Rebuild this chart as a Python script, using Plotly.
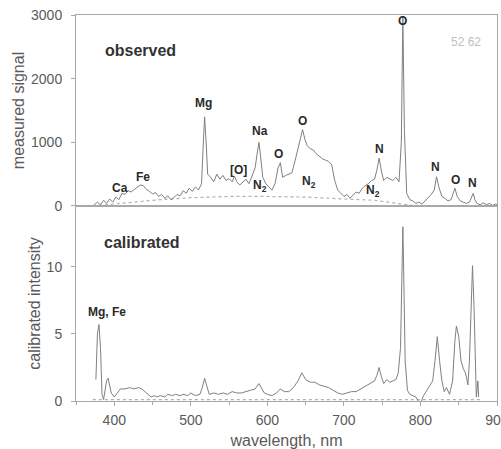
import plotly.graph_objects as go

# ---------------- data ----------------
obs_wl = [372, 378, 382, 386, 390, 394, 398, 402, 406, 410, 414, 418, 422, 428, 434, 438, 442, 446,
          450, 454, 458, 462, 466, 470, 474, 478, 482, 486, 490, 494, 498, 502, 506, 510, 514, 516,
          518, 520, 522, 526, 530, 534, 538, 542, 546, 550, 554, 557, 560, 564, 568, 572, 576, 580,
          584, 587, 589, 591, 594, 598, 602, 606, 610, 614, 617, 620, 624, 628, 632, 636, 640, 643,
          646, 649, 652, 656, 660, 664, 668, 672, 676, 680, 684, 688, 692, 696, 700, 704, 708, 712,
          716, 720, 724, 728, 732, 736, 740, 743, 746, 749, 752, 756, 760, 764, 768, 772, 775, 777,
          779, 782, 786, 790, 794, 798, 802, 806, 810, 814, 818, 821, 824, 828, 832, 836, 840, 843,
          845, 848, 852, 856, 860, 864, 867, 869, 871, 874, 878, 882, 886, 890, 894, 898, 900]
obs_sig = [0, 60, 20, 90, 40, 110, 60, 140, 100, 200, 180, 240, 220, 280, 330, 320, 260, 230,
           190, 210, 150, 180, 120, 160, 100, 130, 180, 160, 240, 200, 280, 230, 300, 250, 350, 900,
           1400, 1000, 500, 450, 380, 500, 420, 480, 400, 430, 380, 470, 380, 330, 370, 420, 350, 480,
           600, 850, 1000, 800, 450, 350, 300, 250, 350, 600, 680, 450, 480, 500, 520, 700, 900, 1100,
           1200, 1050, 950, 900, 880, 820, 780, 740, 720, 700, 650, 400, 250, 200, 150, 180, 120, 170,
           220, 200, 280, 320, 350, 400, 420, 560, 750, 550, 400, 450, 420, 400, 450, 380, 1000, 2970,
           1200, 200, 100, 80, 40, 60, 30, 80, 130, 180, 250, 460, 300, 150, 120, 80, 100, 200,
           280, 150, 80, 60, 40, 60, 150, 200, 100, 40, 20, 50, 20, 40, 10, 30, 20]

base_wl = [372, 400, 430, 460, 500, 550, 600, 650, 700, 740, 770, 790, 820, 900]
base_sig = [0, 30, 60, 100, 130, 150, 150, 140, 110, 90, 40, 10, 0, 0]

cal_wl = [376, 378, 380, 382, 384, 386, 388, 390, 392, 394, 396, 400, 404, 408, 414, 420, 426, 432,
          436, 440, 444, 448, 452, 456, 460, 466, 470, 476, 480, 486, 490, 496, 500, 506, 512, 515,
          518, 521, 524, 530, 536, 542, 548, 554, 560, 566, 572, 578, 584, 589, 592, 596, 600, 606,
          612, 617, 622, 628, 634, 640, 645, 650, 656, 662, 668, 674, 680, 686, 692, 698, 704, 710,
          716, 722, 728, 734, 740, 743, 746, 749, 752, 756, 760, 764, 768, 771, 774, 776, 777, 778,
          780, 783, 786, 790, 794, 798, 800, 804, 808, 812, 816, 819, 822, 825, 828, 831, 834, 838,
          842, 845, 847, 850, 853, 856, 858, 860, 862, 864, 866, 868, 870, 872, 873, 875, 876]
cal_int = [1.6, 5.0, 5.7, 4.0, 0.5, 0.1, 0.8, 1.5, 1.7, 1.2, 0.6, 0.3, 0.6, 0.9, 0.9, 1.0, 0.9, 1.0,
           0.9, 0.7, 0.5, 0.3, 0.4, 0.3, 0.4, 0.3, 0.5, 0.4, 0.5, 0.4, 0.5, 0.4, 0.6, 0.4, 0.5, 1.0,
           1.7, 1.0, 0.5, 0.6, 0.5, 0.6, 0.5, 0.7, 0.6, 0.6, 0.7, 0.8, 0.9, 1.3, 1.0, 0.6, 0.5, 0.4,
           0.6, 0.9, 0.7, 0.7, 1.0, 1.5, 2.1, 1.6, 1.4, 1.4, 1.2, 1.1, 1.0, 0.8, 0.6, 0.5, 0.6, 0.7,
           0.7, 0.9, 1.1, 1.3, 1.5, 1.9, 2.5, 1.8, 1.3, 1.6, 1.4, 1.5, 1.6, 2.1, 4.0, 10.0, 13.0, 10.0,
           3.0, 0.8, 0.5, 0.4, 0.3, -0.1, -0.2, 0.4, 0.8, 1.2, 1.5, 3.0, 4.8, 3.0, 1.5, 0.7, 1.0, 0.5,
           1.5, 4.5, 5.6, 4.8, 3.0, 2.4, 2.2, 1.8, 1.2, 3.0, 7.0, 10.1, 7.0, 2.0, 0.3, 1.5, 0.3]

cal_base_wl = [372, 880]
cal_base_int = [0.1, 0.1]

top_labels = ["Ca", "Fe", "Mg", "[O]", "N<sub>2</sub>", "Na", "O", "O", "N<sub>2</sub>", "N",
              "N<sub>2</sub>", "O", "N", "O", "N"]
top_label_x = [407, 437, 516, 562, 590, 590, 615, 646, 654, 746, 738, 776, 820, 846, 868]
top_label_y = [283, 455, 1618, 566, 314, 1178, 817, 1335, 377, 895, 236, 2906, 613, 408, 361]

x_ticks = [400, 500, 600, 700, 800, 900]
top_y_ticks = [0, 1000, 2000, 3000]
bot_y_ticks = [0, 5, 10]

# ---------------- figure ----------------
LINE = "#808080"
AX = "#a8a8a8"
TXT = "#5a5a5a"
FONT = "Liberation Sans, Arial, sans-serif"

fig = go.Figure()
fig.add_trace(go.Scatter(x=base_wl, y=base_sig, mode="lines", xaxis="x", yaxis="y",
                         line=dict(color="#b0b0b0", width=1.2, dash="dot"), hoverinfo="skip"))
fig.add_trace(go.Scatter(x=obs_wl, y=obs_sig, mode="lines", xaxis="x", yaxis="y",
                         line=dict(color=LINE, width=1)))
fig.add_trace(go.Scatter(x=cal_base_wl, y=cal_base_int, mode="lines", xaxis="x2", yaxis="y2",
                         line=dict(color="#b0b0b0", width=1.2, dash="dot"), hoverinfo="skip"))
fig.add_trace(go.Scatter(x=cal_wl, y=cal_int, mode="lines", xaxis="x2", yaxis="y2",
                         line=dict(color=LINE, width=1)))

split = 0.5052
common_x = dict(range=[350, 900], showgrid=False, zeroline=False, showline=True,
                linecolor=AX, linewidth=1, mirror=True, automargin=False)
fig.update_layout(
    width=501, height=449,
    margin=dict(l=76, r=4, t=15, b=48),
    paper_bgcolor="white", plot_bgcolor="white",
    showlegend=False, hovermode=False,
    font=dict(family=FONT, color=TXT, size=14),
    xaxis=dict(**common_x, anchor="y", domain=[0, 1], showticklabels=False, ticks=""),
    xaxis2=dict(**common_x, anchor="y2", domain=[0, 1], tickvals=x_ticks, ticks="outside",
                ticklen=4, tickcolor=AX, ticklabelstandoff=2, ticklabeloverflow="allow",
                minor=dict(dtick=50, ticks="outside", ticklen=3, tickcolor=AX),
                title=dict(text="wavelength, nm", font=dict(size=16, color=TXT), standoff=8)),
    yaxis=dict(domain=[split, 1], range=[0, 3000], tickvals=top_y_ticks, ticks="outside",
               ticklen=4, tickcolor=AX, showgrid=False, zeroline=False, showline=True,
               mirror=True, linecolor=AX, ticklabelstandoff=6, ticklabeloverflow="allow",
               anchor="x", automargin=False,
               title=dict(text="measured signal", font=dict(size=16, color=TXT), standoff=2)),
    yaxis2=dict(domain=[0, split], range=[0, 14.55], tickvals=bot_y_ticks, ticks="outside",
                ticklen=4, tickcolor=AX, showgrid=False, zeroline=False, showline=True,
                mirror=True, linecolor=AX, ticklabelstandoff=6, ticklabeloverflow="allow",
                anchor="x2", automargin=False,
                title=dict(text="calibrated intensity", font=dict(size=16, color=TXT), standoff=2)),
)

LBL = "#2a2a2a"
for t, x, y in zip(top_labels, top_label_x, top_label_y):
    fig.add_annotation(x=x, y=y, xref="x", yref="y", text=f"<b>{t}</b>", showarrow=False,
                       font=dict(size=12, color=LBL, family=FONT))

fig.add_annotation(x=385, y=2450, xref="x", yref="y", text="<b>observed</b>", showarrow=False,
                   xanchor="left", font=dict(size=16, color="#333333", family=FONT))
fig.add_annotation(x=860, y=2576, xref="x", yref="y", text="52 62", showarrow=False,
                   font=dict(size=12, color="#c0c0c0", family=FONT))
fig.add_annotation(x=384, y=11.8, xref="x2", yref="y2", text="<b>calibrated</b>", showarrow=False,
                   xanchor="left", font=dict(size=16, color="#333333", family=FONT))
fig.add_annotation(x=390.5, y=6.64, xref="x2", yref="y2", text="<b>Mg, Fe</b>", showarrow=False,
                   font=dict(size=12, color=LBL, family=FONT))

fig.write_html("out.html", config={"displayModeBar": False},
               post_script="document.body.style.margin='0';document.body.style.overflow='hidden';")
